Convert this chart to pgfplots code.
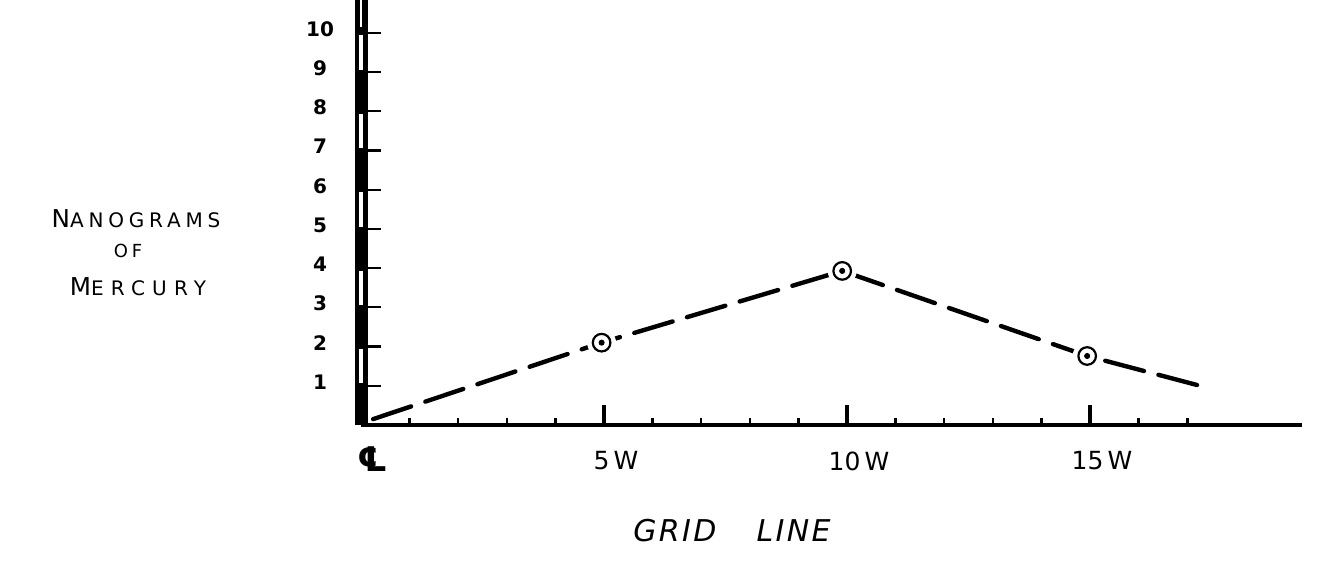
\documentclass[border=0pt]{standalone}
\usepackage{fontspec}
\setmainfont{DejaVu Sans}
\usepackage{pgfplots}
\pgfplotsset{compat=1.18}
\begin{document}
\begin{tikzpicture}[x=1pt,y=1pt]
\useasboundingbox (0,0) rectangle (661.5,288.5);
\begin{axis}[
  at={(180.5pt,76pt)}, anchor=south west,
  scale only axis, width=470.5pt, height=212.5pt,
  xmin=0, xmax=19.36, ymin=0, ymax=10.84,
  clip=false,
  axis x line=bottom, axis y line=left,
  x axis line style={-, line width=2pt},
  y axis line style={draw=none},
  xtick={0,5,10,15},
  xticklabels={{\raisebox{2pt}{\bfseries\fontsize{17}{18}\selectfont ℄}}, 5\,W, 10\,W, 15\,W},
  minor xtick={1,2,3,4,6,7,8,9,11,12,13,14,16,17},
  ytick={1,2,3,4,5,6,7,8,9,10},
  tick align=inside,
  major tick length=10pt, minor tick length=3.5pt,
  x tick style={line width=1.6pt, black},
  minor x tick style={line width=1.2pt},
  y tick style={line width=1.1pt, black},
  /pgf/number format/assume math mode=true,
  xticklabel style={anchor=center, xshift=6pt, yshift=-18pt, font=\fontsize{12.5}{14}\selectfont},
  yticklabel style={anchor=center, xshift=-20.5pt, yshift=2pt, font=\bfseries\fontsize{10}{12}\selectfont},
]
% scale bar along the vertical axis
\fill[black] (axis cs:-0.13,0) rectangle (axis cs:0.14,10.84);
\pgfplotsinvokeforeach{1,3,5,7,9}{
  \fill[white] (axis cs:-0.035,#1.06) rectangle (axis cs:0.035,#1.94);
}
\fill[white] (axis cs:-0.025,10.15) rectangle (axis cs:0.02,10.84);

\addplot[black, line width=2.2pt, line cap=round, dash pattern=on 20pt off 7.5pt]
  coordinates {(0.25,0.15) (4.95,2.1) (9.9,3.93) (14.94,1.76) (17.2,1.02)};
\addplot[only marks, mark=*, mark size=7pt, white, mark options={draw=white, fill=white}]
  coordinates {(4.95,2.1) (9.9,3.93) (14.94,1.76)};
\addplot[only marks, mark=o, mark size=4.4pt, black, mark options={line width=1.1pt}]
  coordinates {(4.95,2.1) (9.9,3.93) (14.94,1.76)};
\addplot[only marks, mark=*, mark size=1.3pt, black]
  coordinates {(4.95,2.1) (9.9,3.93) (14.94,1.76)};
\end{axis}
\node at (68,179) {{\fontsize{12.3}{14}\selectfont N}{\addfontfeature{LetterSpace=24}\fontsize{10}{12}\selectfont ANOGRAMS}};
\node at (64,163) {\addfontfeature{LetterSpace=22}\fontsize{9}{10}\selectfont OF};
\node at (69,145) {{\fontsize{12.3}{14}\selectfont M}{\addfontfeature{LetterSpace=36}\fontsize{10}{12}\selectfont ERCURY}};
\node at (366,23) {\fontsize{15}{17}\selectfont\itshape\addfontfeature{LetterSpace=8}GRID\hspace{20pt}LINE};
\end{tikzpicture}
\end{document}
